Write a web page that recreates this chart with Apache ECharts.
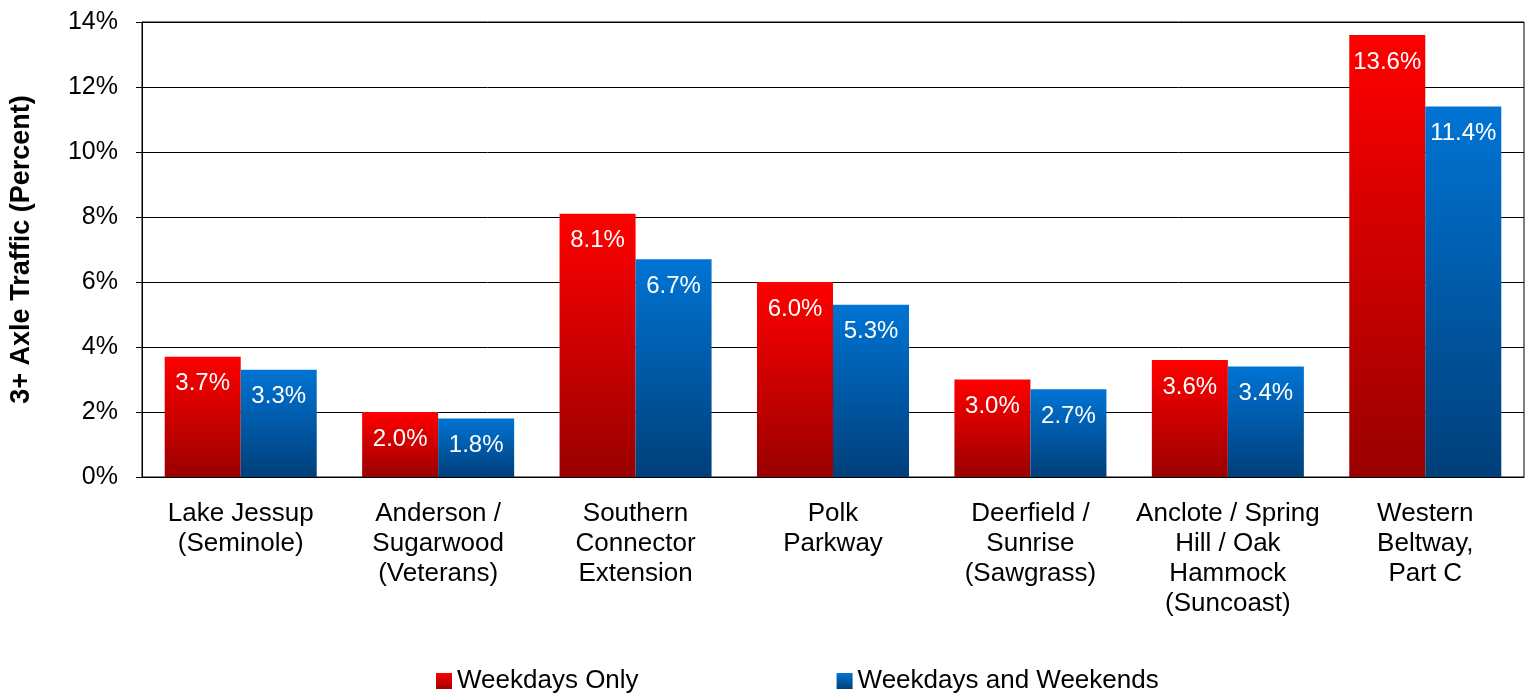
<!DOCTYPE html>
<html>
<head>
<meta charset="utf-8">
<script src="https://cdn.jsdelivr.net/npm/echarts@6/dist/echarts.min.js"></script>
<style>html,body{margin:0;padding:0;background:#fff}#c{width:1530px;height:698px}</style>
</head>
<body>
<div id="c"></div>
<script>
const categories = [
  'Lake Jessup\n(Seminole)',
  'Anderson /\nSugarwood\n(Veterans)',
  'Southern\nConnector\nExtension',
  'Polk\nParkway',
  'Deerfield /\nSunrise\n(Sawgrass)',
  'Anclote / Spring\nHill / Oak\nHammock\n(Suncoast)',
  'Western\nBeltway,\nPart C'
];
const seriesNames = ['Weekdays Only', 'Weekdays and Weekends'];
const weekdaysOnly = [3.7, 2.0, 8.1, 6.0, 3.0, 3.6, 13.6];
const weekdaysWeekends = [3.3, 1.8, 6.7, 5.3, 2.7, 3.4, 11.4];
const yTicks = { min: 0, max: 14, interval: 2 };

const font = 'Liberation Sans, Arial, sans-serif';
function grad(top, bottom) {
  return new echarts.graphic.LinearGradient(0, 0, 0, 1, [
    { offset: 0, color: top }, { offset: 1, color: bottom }
  ]);
}
const label = {
  show: true, position: 'insideTop', distance: 15,
  color: '#fff', fontSize: 24, fontFamily: font,
  formatter: p => p.value.toFixed(1) + '%'
};
const chart = echarts.init(document.getElementById('c'));
chart.setOption({
  animation: false,
  textStyle: { fontFamily: font },
  grid: { left: 142, right: 6, top: 22, bottom: 221, show: true, borderColor: '#000', borderWidth: 1 },
  legend: {
    top: 668, left: 436, padding: 0, itemGap: 198, itemWidth: 16, itemHeight: 16, icon: 'rect',
    textStyle: { fontSize: 26, color: '#000', fontFamily: font },
    data: seriesNames
  },
  xAxis: {
    type: 'category', data: categories,
    axisLine: { lineStyle: { color: '#000' } },
    axisTick: { show: false },
    axisLabel: { color: '#000', fontSize: 26, lineHeight: 30, margin: 22, interval: 0, fontFamily: font }
  },
  yAxis: {
    type: 'value', min: yTicks.min, max: yTicks.max, interval: yTicks.interval,
    name: '3+ Axle Traffic (Percent)', nameLocation: 'middle', nameGap: 107, nameRotate: 90,
    nameTextStyle: { fontSize: 27, fontWeight: 'bold', color: '#000', fontFamily: font },
    axisLine: { show: true, lineStyle: { color: '#000' } },
    axisTick: { show: true, length: 6, lineStyle: { color: '#000' } },
    splitLine: { lineStyle: { color: '#000' } },
    axisLabel: { color: '#000', fontSize: 25, margin: 24, formatter: v => v + '%', fontFamily: font }
  },
  series: [
    { name: seriesNames[0], type: 'bar', data: weekdaysOnly, barGap: '0%', barCategoryGap: '23%',
      itemStyle: { color: grad('#ff0000', '#9a0000') }, label },
    { name: seriesNames[1], type: 'bar', data: weekdaysWeekends, barGap: '0%', barCategoryGap: '23%',
      itemStyle: { color: grad('#0074d4', '#003f7a') }, label }
  ]
});
</script>
</body>
</html>
